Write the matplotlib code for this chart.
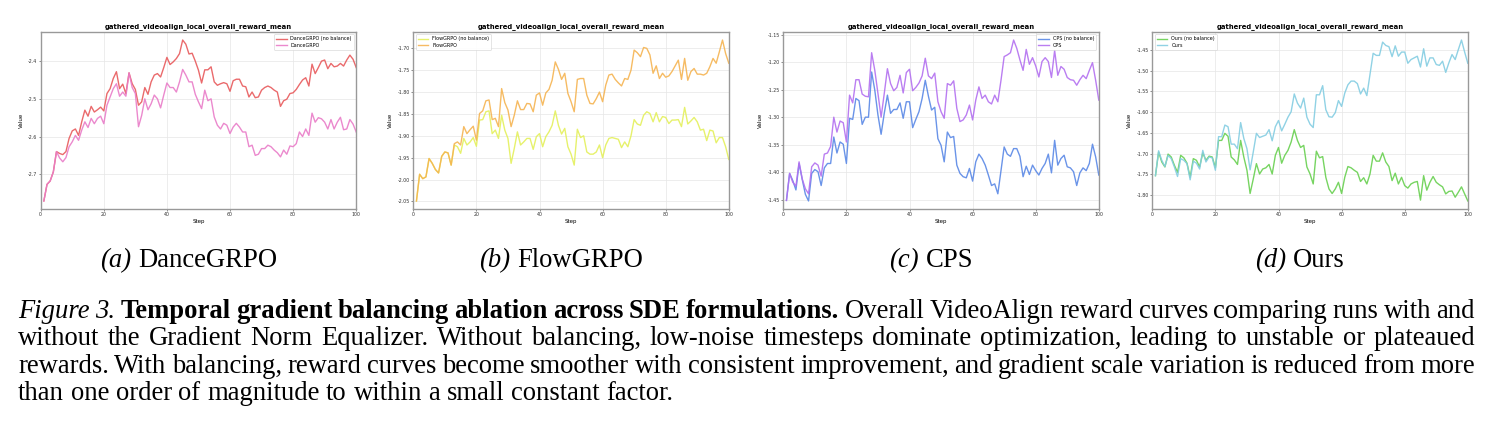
import matplotlib
matplotlib.use("Agg")
import matplotlib.pyplot as plt
import matplotlib.transforms as mtransforms
from matplotlib.ticker import FormatStrFormatter
import numpy as np

plt.rcParams['axes.unicode_minus'] = False

steps = np.arange(1, 101)

dance_nobal = [-2.771, -2.727, -2.718, -2.694, -2.640, -2.645, -2.648, -2.640, -2.605, -2.585,
               -2.580, -2.597, -2.561, -2.530, -2.546, -2.520, -2.535, -2.529, -2.522, -2.532,
               -2.486, -2.473, -2.446, -2.428, -2.473, -2.461, -2.486, -2.431, -2.460, -2.475,
               -2.517, -2.508, -2.470, -2.488, -2.455, -2.437, -2.433, -2.442, -2.417, -2.390,
               -2.409, -2.402, -2.393, -2.380, -2.344, -2.355, -2.381, -2.379, -2.400, -2.424,
               -2.458, -2.423, -2.423, -2.415, -2.455, -2.464, -2.460, -2.457, -2.460, -2.480,
               -2.452, -2.448, -2.448, -2.466, -2.468, -2.495, -2.482, -2.497, -2.495, -2.477,
               -2.470, -2.466, -2.470, -2.477, -2.482, -2.520, -2.505, -2.501, -2.486, -2.484,
               -2.475, -2.462, -2.450, -2.444, -2.466, -2.408, -2.433, -2.417, -2.400, -2.397,
               -2.420, -2.406, -2.415, -2.413, -2.406, -2.413, -2.397, -2.384, -2.395, -2.417]
dance_bal = [-2.771, -2.727, -2.718, -2.694, -2.640, -2.657, -2.667, -2.656, -2.627, -2.614,
             -2.597, -2.610, -2.583, -2.561, -2.576, -2.552, -2.566, -2.552, -2.546, -2.566,
             -2.517, -2.495, -2.473, -2.460, -2.493, -2.482, -2.493, -2.431, -2.470, -2.486,
             -2.574, -2.544, -2.500, -2.529, -2.513, -2.490, -2.500, -2.524, -2.490, -2.458,
             -2.470, -2.470, -2.482, -2.455, -2.422, -2.437, -2.455, -2.455, -2.488, -2.508,
             -2.526, -2.477, -2.505, -2.500, -2.548, -2.570, -2.580, -2.565, -2.570, -2.592,
             -2.575, -2.565, -2.575, -2.588, -2.588, -2.627, -2.623, -2.650, -2.647, -2.632,
             -2.632, -2.623, -2.627, -2.636, -2.643, -2.654, -2.636, -2.647, -2.625, -2.627,
             -2.619, -2.588, -2.600, -2.580, -2.597, -2.538, -2.562, -2.550, -2.553, -2.562,
             -2.580, -2.555, -2.580, -2.562, -2.549, -2.582, -2.580, -2.555, -2.567, -2.588]

flow_nobal = [-2.049, -1.988, -1.998, -1.994, -1.952, -1.963, -1.977, -1.985, -1.947, -1.937,
              -1.939, -1.967, -1.921, -1.925, -1.940, -1.906, -1.921, -1.914, -1.904, -1.924,
              -1.864, -1.863, -1.845, -1.843, -1.895, -1.887, -1.906, -1.853, -1.887, -1.906,
              -1.963, -1.929, -1.891, -1.921, -1.914, -1.906, -1.906, -1.931, -1.902, -1.895,
              -1.925, -1.902, -1.891, -1.876, -1.843, -1.876, -1.896, -1.883, -1.925, -1.942,
              -1.967, -1.885, -1.904, -1.900, -1.937, -1.942, -1.942, -1.937, -1.921, -1.950,
              -1.921, -1.906, -1.904, -1.906, -1.908, -1.927, -1.914, -1.925, -1.900, -1.863,
              -1.873, -1.876, -1.853, -1.845, -1.849, -1.868, -1.847, -1.868, -1.856, -1.858,
              -1.872, -1.864, -1.864, -1.863, -1.879, -1.835, -1.873, -1.866, -1.858, -1.868,
              -1.887, -1.885, -1.911, -1.887, -1.889, -1.916, -1.904, -1.904, -1.925, -1.954]
flow_bal = [-2.049, -1.988, -1.998, -1.994, -1.952, -1.963, -1.977, -1.985, -1.947, -1.937,
            -1.939, -1.967, -1.918, -1.914, -1.921, -1.879, -1.895, -1.886, -1.878, -1.910,
            -1.849, -1.843, -1.820, -1.818, -1.863, -1.860, -1.879, -1.792, -1.824, -1.841,
            -1.879, -1.853, -1.820, -1.840, -1.840, -1.826, -1.827, -1.845, -1.807, -1.802,
            -1.830, -1.802, -1.794, -1.773, -1.731, -1.748, -1.771, -1.757, -1.803, -1.822,
            -1.845, -1.771, -1.769, -1.769, -1.807, -1.826, -1.827, -1.815, -1.800, -1.822,
            -1.784, -1.761, -1.759, -1.771, -1.779, -1.786, -1.769, -1.771, -1.750, -1.704,
            -1.710, -1.719, -1.698, -1.700, -1.715, -1.757, -1.740, -1.769, -1.757, -1.766,
            -1.763, -1.753, -1.740, -1.727, -1.771, -1.723, -1.773, -1.753, -1.746, -1.759,
            -1.759, -1.761, -1.757, -1.742, -1.723, -1.734, -1.708, -1.681, -1.712, -1.734]

cps_nobal = [-1.451, -1.402, -1.415, -1.432, -1.384, -1.413, -1.440, -1.452, -1.402, -1.395,
             -1.399, -1.424, -1.392, -1.384, -1.384, -1.336, -1.365, -1.345, -1.349, -1.384,
             -1.302, -1.304, -1.266, -1.270, -1.313, -1.300, -1.300, -1.218, -1.251, -1.296,
             -1.331, -1.293, -1.260, -1.293, -1.286, -1.286, -1.274, -1.302, -1.272, -1.272,
             -1.319, -1.304, -1.290, -1.266, -1.233, -1.262, -1.287, -1.282, -1.339, -1.351,
             -1.381, -1.327, -1.337, -1.335, -1.387, -1.402, -1.408, -1.410, -1.393, -1.416,
             -1.381, -1.367, -1.375, -1.387, -1.405, -1.424, -1.421, -1.439, -1.397, -1.354,
             -1.367, -1.371, -1.357, -1.357, -1.371, -1.408, -1.389, -1.404, -1.387, -1.397,
             -1.405, -1.393, -1.384, -1.367, -1.401, -1.342, -1.387, -1.375, -1.369, -1.390,
             -1.392, -1.399, -1.424, -1.401, -1.392, -1.397, -1.384, -1.349, -1.372, -1.405]
cps_bal = [-1.451, -1.402, -1.418, -1.425, -1.381, -1.412, -1.430, -1.439, -1.390, -1.383,
           -1.387, -1.407, -1.367, -1.365, -1.353, -1.300, -1.327, -1.307, -1.310, -1.345,
           -1.260, -1.274, -1.232, -1.232, -1.258, -1.262, -1.263, -1.183, -1.215, -1.257,
           -1.300, -1.257, -1.212, -1.239, -1.252, -1.246, -1.224, -1.256, -1.219, -1.213,
           -1.252, -1.246, -1.238, -1.225, -1.193, -1.225, -1.230, -1.220, -1.272, -1.290,
           -1.302, -1.239, -1.242, -1.234, -1.284, -1.308, -1.305, -1.296, -1.278, -1.305,
           -1.269, -1.245, -1.266, -1.260, -1.272, -1.276, -1.260, -1.272, -1.233, -1.190,
           -1.187, -1.183, -1.160, -1.175, -1.196, -1.215, -1.177, -1.204, -1.192, -1.207,
           -1.227, -1.199, -1.192, -1.199, -1.228, -1.179, -1.224, -1.208, -1.213, -1.228,
           -1.232, -1.233, -1.242, -1.232, -1.224, -1.230, -1.215, -1.201, -1.233, -1.269]

ours_nobal = [-1.753, -1.696, -1.720, -1.732, -1.701, -1.708, -1.728, -1.745, -1.704, -1.710,
              -1.723, -1.757, -1.712, -1.716, -1.732, -1.698, -1.716, -1.706, -1.708, -1.734,
              -1.668, -1.668, -1.651, -1.658, -1.708, -1.715, -1.726, -1.668, -1.708, -1.740,
              -1.796, -1.761, -1.724, -1.749, -1.737, -1.734, -1.726, -1.749, -1.704, -1.685,
              -1.723, -1.704, -1.692, -1.672, -1.642, -1.668, -1.685, -1.680, -1.732, -1.749,
              -1.773, -1.694, -1.710, -1.707, -1.757, -1.785, -1.796, -1.785, -1.769, -1.796,
              -1.757, -1.731, -1.734, -1.740, -1.745, -1.767, -1.758, -1.773, -1.749, -1.704,
              -1.718, -1.718, -1.698, -1.720, -1.731, -1.765, -1.747, -1.773, -1.757, -1.777,
              -1.783, -1.773, -1.769, -1.767, -1.812, -1.753, -1.788, -1.769, -1.755, -1.769,
              -1.775, -1.780, -1.797, -1.791, -1.790, -1.805, -1.793, -1.780, -1.797, -1.814]
ours_bal = [-1.753, -1.693, -1.716, -1.731, -1.704, -1.712, -1.732, -1.755, -1.712, -1.716,
            -1.724, -1.763, -1.718, -1.723, -1.737, -1.692, -1.720, -1.708, -1.710, -1.740,
            -1.659, -1.659, -1.631, -1.635, -1.677, -1.677, -1.688, -1.625, -1.663, -1.688,
            -1.739, -1.696, -1.651, -1.661, -1.658, -1.655, -1.642, -1.669, -1.635, -1.620,
            -1.645, -1.629, -1.612, -1.599, -1.556, -1.578, -1.590, -1.566, -1.612, -1.629,
            -1.637, -1.558, -1.558, -1.536, -1.594, -1.611, -1.612, -1.601, -1.572, -1.586,
            -1.554, -1.534, -1.525, -1.525, -1.531, -1.556, -1.542, -1.560, -1.509, -1.458,
            -1.463, -1.463, -1.431, -1.439, -1.442, -1.466, -1.440, -1.465, -1.455, -1.455,
            -1.482, -1.473, -1.469, -1.465, -1.491, -1.447, -1.489, -1.469, -1.469, -1.485,
            -1.487, -1.477, -1.504, -1.481, -1.461, -1.473, -1.449, -1.426, -1.455, -1.482]

methods = ['DanceGRPO', 'FlowGRPO', 'CPS', 'Ours']
letters = ['(a)', '(b)', '(c)', '(d)']
series = [(dance_nobal, dance_bal), (flow_nobal, flow_bal), (cps_nobal, cps_bal), (ours_nobal, ours_bal)]
colors = [('#e85a5c', '#e97cc8'), ('#e4f05c', '#f5b452'), ('#5a88e6', '#b370f0'), ('#68d050', '#84cde2')]
yticks = [[-2.7, -2.6, -2.5, -2.4],
          [-2.05, -2.00, -1.95, -1.90, -1.85, -1.80, -1.75, -1.70],
          [-1.45, -1.40, -1.35, -1.30, -1.25, -1.20, -1.15],
          [-1.80, -1.75, -1.70, -1.65, -1.60, -1.55, -1.50, -1.45]]
yfmt = ['%.1f', '%.2f', '%.2f', '%.2f']
legend_loc = ['upper right', 'upper left', 'upper right', 'upper left']

W, H = 1493, 430
fig = plt.figure(figsize=(W / 100, H / 100), dpi=100)

ax_left = [40.7, 413.3, 783.3, 1152.3]
ax_w = 315.5
ax_top, ax_bot = 32, 209

for i in range(4):
    ax = fig.add_axes([ax_left[i] / W, 1 - ax_bot / H, ax_w / W, (ax_bot - ax_top) / H])
    nb, b = series[i]
    ax.plot(steps, nb, color=colors[i][0], lw=1.0, alpha=0.9, label=methods[i] + ' (no balance)')
    ax.plot(steps, b, color=colors[i][1], lw=1.0, alpha=0.9, label=methods[i])
    ax.set_xlim(0, 100)
    ax.set_xticks([0, 20, 40, 60, 80, 100])
    ax.set_yticks(yticks[i])
    ax.yaxis.set_major_formatter(FormatStrFormatter(yfmt[i]))
    ax.grid(True, color='#e6e6e6', lw=0.5)
    ax.tick_params(labelsize=3.4, length=1.5, width=0.4, pad=1, colors='#333333')
    for sp in ax.spines.values():
        sp.set_color('#999999')
        sp.set_linewidth(1.0)
    ax.set_title('gathered_videoalign_local_overall_reward_mean', fontsize=4.95,
                 fontweight='bold', pad=2.5)
    ax.set_xlabel('Step', fontsize=4.0, labelpad=1)
    ax.set_ylabel('Value', fontsize=4.0, labelpad=3)
    leg = ax.legend(loc=legend_loc[i], fontsize=3.5, handlelength=2.2, borderpad=0.4,
                    labelspacing=0.35, framealpha=0.9, edgecolor='#cccccc', fancybox=True)
    leg.get_frame().set_linewidth(0.4)
    for ln in leg.get_lines():
        ln.set_linewidth(1.0)

pix = mtransforms.IdentityTransform()
serif = 'Liberation Serif'
FS = 19.2
renderer = fig.canvas.get_renderer()


def put_word(x, y, s, style):
    t = fig.text(x, y, s, transform=pix, fontsize=FS, family=serif,
                 style='italic' if style == 'i' else 'normal',
                 weight='bold' if style == 'b' else 'normal', va='baseline', ha='left')
    return t


# subcaptions
for i in range(4):
    cx = ax_left[i] + ax_w / 2 - 10
    t1 = put_word(0, H - 267, letters[i], 'i')
    t2 = put_word(0, H - 267, methods[i], 'r')
    w1 = t1.get_window_extent(renderer).width
    w2 = t2.get_window_extent(renderer).width
    sp = FS * 0.25 * 100 / 72
    x0 = cx - (w1 + sp + w2) / 2
    t1.set_x(x0)
    t2.set_x(x0 + w1 + sp)

cap_lines = [
    [('Figure 3.', 'i'), ('Temporal gradient balancing ablation across SDE formulations.', 'b'),
     ('Overall VideoAlign reward curves comparing runs with and', 'r')],
    [('without the Gradient Norm Equalizer. Without balancing, low-noise timesteps dominate optimization, leading to unstable or plateaued', 'r')],
    [('rewards. With balancing, reward curves become smoother with consistent improvement, and gradient scale variation is reduced from more', 'r')],
    [('than one order of magnitude to within a small constant factor.', 'r')],
]
x_start, x_end = 18, 1475
baselines = [318, 345.3, 372.6, 399.9]

for li, parts in enumerate(cap_lines):
    words = []
    for txt, st in parts:
        for w in txt.split(' '):
            words.append((w, st))
    ts = [put_word(0, H - baselines[li], w, st) for w, st in words]
    ws = [t.get_window_extent(renderer).width for t in ts]
    if li < len(cap_lines) - 1:
        gap = (x_end - x_start - sum(ws)) / (len(ws) - 1)
    else:
        gap = FS * 0.25 * 100 / 72
    x = x_start
    for t, w in zip(ts, ws):
        t.set_x(x)
        x += w + gap

fig.savefig('out.png', dpi=100)
